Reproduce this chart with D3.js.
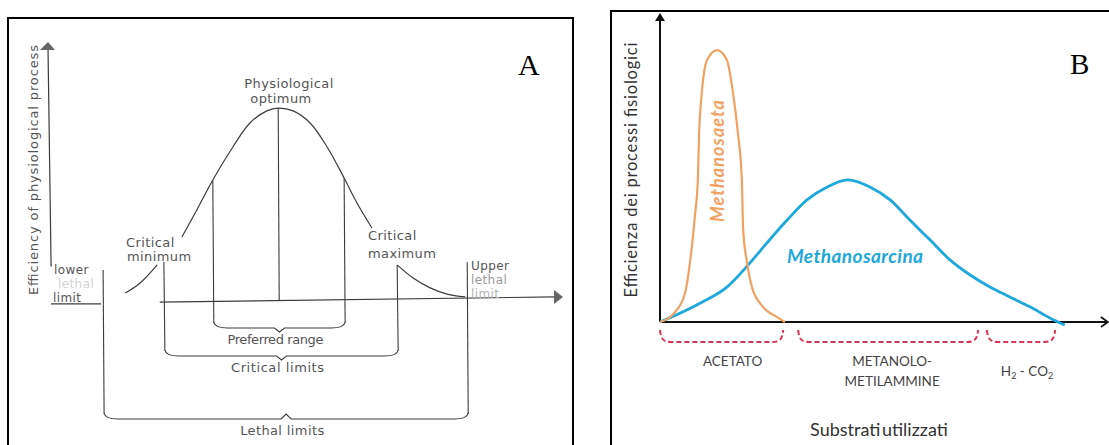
<!DOCTYPE html>
<html>
<head>
<meta charset="utf-8">
<script src="https://cdn.jsdelivr.net/npm/d3@7"></script>
<style>
  body { margin: 0; background: #fff; }
  svg { display: block; }
</style>
</head>
<body>
<svg id="chart" width="1109" height="445"></svg>
<script>
// ---- panel A data (x and y in 0-100 units along the axes) ----
var curveAx = [15, 17.9, 21.2, null, 26, 28.9, 32, 35.9, 39.2, 42.5, 44.7, 47.6, 50.9, 54.2, 57.5, 60, 62.9, null, 67.8, 70.9, 74.2, 77.5, 81];
var curveAy = [2.7, 6.6, 13.6, null, 24.4, 34.9, 46.5, 59.3, 68.6, 73.3, 74.4, 73.3, 68.6, 59.3, 47.3, 37.6, 27.9, null, 13.6, 8.5, 4.7, 2.3, 1.2];
var limitX = [10.7, 22.5, 32.0, 44.7, 57.5, 67.8, 81.4];
var limitTop = [11.6, 14.7, 46.5, 74.4, 47.3, 13.6, 14.7];
var limitRange = [2, 1, 0, -1, 0, 1, 2];
var rangeLabels = ['Preferred range', 'Critical limits', 'Lethal limits'];
var rangeFrom = [32.0, 22.5, 10.7];
var rangeTo = [57.5, 67.8, 81.4];

// ---- panel B data ----
var saetaX = [0, 3.4, 5.7, 6.8, 8.0, 8.6, 8.9, 9.5, 10.7, 13.0, 15.2, 16.6, 17.7, 18.6, 18.9, 19.8, 20.9, 23.4, 26.6, 28.4];
var saetaY = [0, 3.2, 9.4, 19.1, 35.3, 46.0, 61.2, 74.1, 84.8, 88.0, 84.8, 74.1, 61.2, 46.0, 29.8, 19.1, 11.3, 4.9, 1.6, 0];
var sarcinaX = [0, 9.1, 15.2, 20.0, 24.3, 28.9, 33.4, 38.0, 42.7, 47.7, 52.3, 56.8, 61.4, 65.9, 70.5, 75.0, 79.5, 84.1, 88.6, 92.0];
var sarcinaY = [0, 6.1, 11.3, 18.4, 25.6, 33.0, 39.5, 43.7, 46.0, 43.7, 39.5, 33.0, 26.5, 20.1, 15.2, 11.3, 8.1, 4.9, 1.3, -1.0];
var substrates = ['ACETATO', 'METANOLO-|METILAMMINE', 'H2-CO2'];
var substrateFrom = [0, 31.4, 74.3];
var substrateTo = [28.0, 72.3, 89.8];

var svg = d3.select('#chart');
svg.append('rect').attr('width', 1109).attr('height', 445).attr('fill', '#fff');

// ================= panel A =================
var gA = svg.append('g');
var inkA = '#3c3c3c', textA = '#555';
var fontA = '"DejaVu Sans", sans-serif';

gA.append('rect')
  .attr('x', 8).attr('y', 18).attr('width', 565).attr('height', 445)
  .attr('fill', 'none').attr('stroke', '#000').attr('stroke-width', 2);

var xA = d3.scaleLinear().domain([0, 100]).range([48, 563]);
var yA = d3.scaleLinear().domain([0, 100]).range([300, 42]);

// y axis (it stops above the "lower lethal limit" label)
gA.append('line')
  .attr('x1', xA(0)).attr('y1', yA(98)).attr('x2', xA(0.6)).attr('y2', yA(13))
  .attr('stroke', inkA).attr('stroke-width', 1.2);
gA.append('path')
  .attr('d', 'M' + (xA(0) - 8) + ',' + (yA(100) + 8) + 'L' + xA(0) + ',' + yA(100) + 'L' + (xA(0) + 7) + ',' + (yA(100) + 8) + 'Z')
  .attr('fill', '#666');

// x axis: short stub under "limit", then the main line to the arrow
gA.append('line')
  .attr('x1', xA(0.6)).attr('y1', yA(-1.5)).attr('x2', xA(10.3)).attr('y2', yA(-1.5))
  .attr('stroke', inkA).attr('stroke-width', 1.2);
gA.append('line')
  .attr('x1', xA(21.7)).attr('y1', yA(-0.8)).attr('x2', xA(98.5)).attr('y2', yA(1.2))
  .attr('stroke', inkA).attr('stroke-width', 1.2);
gA.append('path')
  .attr('d', 'M' + (xA(100) - 9) + ',' + (yA(1.2) - 7) + 'L' + xA(100) + ',' + yA(1.2) + 'L' + (xA(100) - 9) + ',' + (yA(1.2) + 7) + 'Z')
  .attr('fill', '#666');

// tolerance curve
var lineA = d3.line()
  .defined(function (d) { return d[0] != null; })
  .x(function (d) { return xA(d[0]); })
  .y(function (d) { return yA(d[1]); })
  .curve(d3.curveCatmullRom.alpha(0.5));
gA.append('path')
  .datum(curveAx.map(function (x, i) { return [x, curveAy[i]]; }))
  .attr('d', lineA)
  .attr('fill', 'none').attr('stroke', inkA).attr('stroke-width', 1.2);

// braces below the axis
var braceY = [326, 354, 417];
var braceTip = [4, 4, -5];

limitX.forEach(function (v, i) {
  var bottom = limitRange[i] < 0 ? yA(0) : braceY[limitRange[i]] - 3;
  gA.append('line')
    .attr('x1', xA(v)).attr('y1', yA(limitTop[i]))
    .attr('x2', xA(v) + 1).attr('y2', bottom)
    .attr('stroke', inkA).attr('stroke-width', 1.1);
});

rangeLabels.forEach(function (lbl, i) {
  var x1 = xA(rangeFrom[i]) + 1, x2 = xA(rangeTo[i]) + 1, y = braceY[i];
  var xm = (x1 + x2) / 2, t = braceTip[i];
  var d = 'M' + x1 + ',' + (y - 4) +
    'Q' + (x1 + 1) + ',' + (y + 2) + ' ' + (x1 + 14) + ',' + (y + 2) +
    'L' + (xm - 5) + ',' + (y + 2) +
    'L' + xm + ',' + (y + 2 + t) +
    'L' + (xm + 5) + ',' + (y + 2) +
    'L' + (x2 - 14) + ',' + (y + 2) +
    'Q' + (x2 - 1) + ',' + (y + 2) + ' ' + x2 + ',' + (y - 4);
  gA.append('path').attr('d', d)
    .attr('fill', 'none').attr('stroke', inkA).attr('stroke-width', 1.1);
  gA.append('text')
    .attr('x', xm - 4).attr('y', y + 18)
    .attr('text-anchor', 'middle')
    .attr('textLength', [96, 93, 84][i]).attr('lengthAdjust', 'spacing')
    .style('font-family', fontA).style('font-size', '13px').style('fill', textA)
    .text(lbl);
});

// labels of panel A
function labelA(txt, x, y, anchor, col, size) {
  gA.append('text')
    .attr('x', x).attr('y', y).attr('text-anchor', anchor || 'start')
    .style('font-family', fontA).style('font-size', (size || 13) + 'px')
    .style('letter-spacing', '0.4px').style('fill', col || textA)
    .text(txt);
}
labelA('Physiological', 289, 88, 'middle');
labelA('optimum', 281, 103, 'middle');
labelA('Critical', 126, 247);
labelA('minimum', 127, 261);
labelA('Critical', 368, 240);
labelA('maximum', 368, 258);
labelA('lower', 54, 274, 'start', textA, 12);
labelA('lethal', 58, 288, 'start', '#d4d4d4', 12);
labelA('limit', 53, 302, 'start', textA, 12);
labelA('Upper', 471, 270, 'start', textA, 12);
labelA('lethal', 471, 284, 'start', '#9a9a9a', 12);
labelA('limit', 471, 298, 'start', '#b5b5b5', 12);

gA.append('text')
  .attr('transform', 'translate(38,170) rotate(-90)')
  .attr('text-anchor', 'middle')
  .attr('textLength', 250).attr('lengthAdjust', 'spacing')
  .style('font-family', fontA).style('font-size', '13px').style('fill', textA)
  .text('Efficiency of physiological process');

gA.append('text')
  .attr('x', 518).attr('y', 75)
  .style('font-family', '"Liberation Serif", serif').style('font-size', '30px').style('fill', '#000')
  .text('A');

// ================= panel B =================
var gB = svg.append('g');
var fontB = 'Lato, "Open Sans", sans-serif';

gB.append('rect')
  .attr('x', 611).attr('y', 11).attr('width', 520).attr('height', 445)
  .attr('fill', 'none').attr('stroke', '#000').attr('stroke-width', 2);

var xB = d3.scaleLinear().domain([0, 100]).range([660, 1100]);
var yB = d3.scaleLinear().domain([0, 100]).range([322, 13]);

// axes
gB.append('line')
  .attr('x1', xB(0)).attr('y1', yB(0)).attr('x2', xB(0)).attr('y2', yB(98))
  .attr('stroke', '#111').attr('stroke-width', 2);
gB.append('path')
  .attr('d', 'M' + (xB(0) - 5) + ',' + (yB(100) + 8) + 'L' + xB(0) + ',' + yB(100) + 'L' + (xB(0) + 5) + ',' + (yB(100) + 8) + 'Z')
  .attr('fill', '#111');
gB.append('line')
  .attr('x1', xB(0)).attr('y1', yB(0)).attr('x2', xB(101.5)).attr('y2', yB(0))
  .attr('stroke', '#111').attr('stroke-width', 2);
gB.append('path')
  .attr('d', 'M' + (xB(101.8) - 7) + ',' + (yB(0) - 5) + 'L' + xB(101.8) + ',' + yB(0) + 'L' + (xB(101.8) - 7) + ',' + (yB(0) + 5))
  .attr('fill', 'none').attr('stroke', '#111').attr('stroke-width', 1.8);

var lineB = d3.line()
  .x(function (d) { return xB(d[0]); })
  .y(function (d) { return yB(d[1]); })
  .curve(d3.curveMonotoneX);

gB.append('path')
  .datum(sarcinaX.map(function (x, i) { return [x, sarcinaY[i]]; }))
  .attr('d', lineB)
  .attr('fill', 'none').attr('stroke', '#1ea8dc').attr('stroke-width', 2.8);

gB.append('path')
  .datum(saetaX.map(function (x, i) { return [x, saetaY[i]]; }))
  .attr('d', lineB)
  .attr('fill', 'none').attr('stroke', '#f0a262').attr('stroke-width', 2.2);

// substrate brackets
substrates.forEach(function (s, i) {
  var x1 = xB(substrateFrom[i]), x2 = xB(substrateTo[i]);
  var top = yB(0) + 8, bot = yB(0) + 20;
  var d = 'M' + x1 + ',' + top +
    'C' + (x1 + 1) + ',' + (bot - 3) + ' ' + (x1 + 3) + ',' + bot + ' ' + (x1 + 11) + ',' + bot +
    'L' + (x2 - 11) + ',' + bot +
    'C' + (x2 - 3) + ',' + bot + ' ' + (x2 - 1) + ',' + (bot - 3) + ' ' + x2 + ',' + top;
  gB.append('path').attr('d', d)
    .attr('fill', 'none').attr('stroke', '#d8324f').attr('stroke-width', 2)
    .attr('stroke-dasharray', '5,3');
});

function labelB(x, y) {
  return gB.append('text')
    .attr('x', x).attr('y', y).attr('text-anchor', 'middle')
    .style('font-family', fontB).style('font-size', '13.5px').style('fill', '#444');
}
var mid = function (i) { return (xB(substrateFrom[i]) + xB(substrateTo[i])) / 2; };
labelB(mid(0) + 11, 366).text(substrates[0]);
labelB(mid(1) + 4, 366).text(substrates[1].split('|')[0]);
labelB(mid(1) + 4, 386).text(substrates[1].split('|')[1]);
var h2 = labelB(mid(2) + 6, 376);
h2.append('tspan').text('H');
h2.append('tspan').attr('dy', 3).style('font-size', '9px').text('2');
h2.append('tspan').attr('dy', -3).text(' - CO');
h2.append('tspan').attr('dy', 3).style('font-size', '9px').text('2');

gB.append('text')
  .attr('x', 879).attr('y', 436).attr('text-anchor', 'middle')
  .style('font-family', fontB).style('font-size', '18px').style('fill', '#333')
  .style('word-spacing', '-3px')
  .text('Substrati utilizzati');

gB.append('text')
  .attr('transform', 'translate(637,170) rotate(-90)')
  .attr('text-anchor', 'middle')
  .attr('textLength', 255).attr('lengthAdjust', 'spacing')
  .style('font-family', fontB).style('font-size', '16.5px').style('fill', '#333')
  .text('Efficienza dei processi fisiologici');

gB.append('text')
  .attr('transform', 'translate(724,161) rotate(-90)')
  .attr('text-anchor', 'middle')
  .attr('textLength', 122).attr('lengthAdjust', 'spacing')
  .style('font-family', fontB).style('font-size', '18px')
  .style('font-weight', 'bold').style('font-style', 'italic').style('fill', '#f0a262')
  .text('Methanosaeta');

gB.append('text')
  .attr('x', 787).attr('y', 263)
  .attr('textLength', 136).attr('lengthAdjust', 'spacing')
  .style('font-family', fontB).style('font-size', '19px')
  .style('font-weight', 'bold').style('font-style', 'italic').style('fill', '#1ea8dc')
  .text('Methanosarcina');

gB.append('text')
  .attr('x', 1070).attr('y', 74)
  .style('font-family', '"Liberation Serif", serif').style('font-size', '29px').style('fill', '#000')
  .text('B');
</script>
</body>
</html>
